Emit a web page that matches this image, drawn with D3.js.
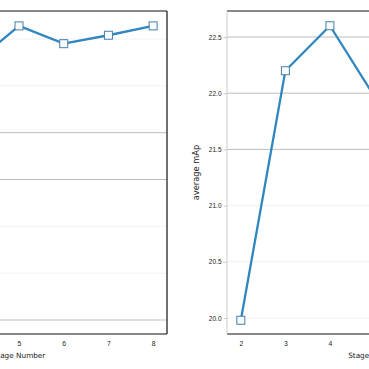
<!DOCTYPE html>
<html><head><meta charset="utf-8">
<script src="https://cdn.jsdelivr.net/npm/d3@7"></script>
<style>body{margin:0;background:#fff;}svg{display:block;font-family:"DejaVu Sans",sans-serif;}</style>
</head><body>
<script>
const stages = [2, 3, 4, 5, 6, 7, 8];
const leftValues = [19.9, 22.2, 22.74, 23.14, 22.95, 23.04, 23.14];
const rightValues = [19.98, 22.2, 22.6, 21.97, 22.3, 22.4, 22.5];
const leftTicks = [20.0, 20.5, 21.0, 21.5, 22.0, 22.5, 23.0];
const rightTicks = [20.0, 20.5, 21.0, 21.5, 22.0, 22.5];
const leftStrongTicks = [20.0, 21.5, 22.0];
const rightStrongTicks = [21.5, 22.0, 22.5];
const xLabel = "Stage Number";
const yLabel = "average mAp";

const W = 369, H = 369;
const svg = d3.select("body").append("svg").attr("width", W).attr("height", H);
const lineColor = "#2f86c0", markerStroke = "#4a7fa6";

function panel(cfg) {
  const g = svg.append("g");
  const x = d3.scaleLinear().domain([1.69, 8.31]).range([cfg.x0, cfg.x1]);
  const y = d3.scaleLinear().domain(cfg.yDomain).range(cfg.yRange);
  g.selectAll("line.grid").data(cfg.ticks).enter().append("line")
    .attr("x1", cfg.x0).attr("x2", cfg.x1)
    .attr("y1", d => y(d)).attr("y2", d => y(d))
    .attr("stroke", d => cfg.strong.includes(d) ? "#bdbdbd" : "#f2f2f2")
    .attr("stroke-width", 1);
  const ya = g.append("g").attr("transform", `translate(${cfg.x0},0)`)
    .call(d3.axisLeft(y).tickValues(cfg.ticks).tickFormat(d3.format(".1f")).tickSize(3.5).tickPadding(2));
  ya.select(".domain").remove();
  ya.selectAll(".tick line").attr("stroke", "#c8c8c8");
  ya.selectAll("text").attr("font-size", 6.5).attr("fill", "#222");
  const xa = g.append("g").attr("transform", `translate(0,${cfg.yBottom})`)
    .call(d3.axisBottom(x).tickValues(stages).tickFormat(d3.format("d")).tickSize(0).tickPadding(7));
  xa.select(".domain").remove();
  xa.selectAll("text").attr("font-size", 6.8).attr("fill", "#222");
  g.append("line").attr("x1", cfg.x0).attr("x2", cfg.x1).attr("y1", cfg.yTop).attr("y2", cfg.yTop).attr("stroke", "#111").attr("stroke-width", 1.2);
  g.append("line").attr("x1", cfg.x0).attr("x2", cfg.x1).attr("y1", cfg.yBottom).attr("y2", cfg.yBottom).attr("stroke", "#111").attr("stroke-width", 1.2);
  g.append("line").attr("x1", cfg.x0).attr("x2", cfg.x0).attr("y1", cfg.yTop).attr("y2", cfg.yBottom).attr("stroke", "#cccccc").attr("stroke-width", 1);
  g.append("line").attr("x1", cfg.x1).attr("x2", cfg.x1).attr("y1", cfg.yTop).attr("y2", cfg.yBottom).attr("stroke", "#111").attr("stroke-width", 1.2);
  g.append("text").attr("x", (cfg.x0 + cfg.x1) / 2).attr("y", cfg.yBottom + 24)
    .attr("text-anchor", "middle").attr("font-size", 7.3).attr("fill", "#222").text(xLabel);
  g.append("text").attr("transform", `translate(${cfg.x0 - 28},${(cfg.yTop + cfg.yBottom) / 2}) rotate(-90)`)
    .attr("text-anchor", "middle").attr("font-size", 8.3).attr("fill", "#222").text(yLabel);
  const data = stages.map((s, i) => [s, cfg.values[i]]);
  g.append("path").datum(data)
    .attr("d", d3.line().x(d => x(d[0])).y(d => y(d[1])))
    .attr("fill", "none").attr("stroke", lineColor).attr("stroke-width", 2.3);
  g.selectAll("rect.m").data(data).enter().append("rect")
    .attr("x", d => x(d[0]) - 4).attr("y", d => y(d[1]) - 4)
    .attr("width", 8).attr("height", 8)
    .attr("fill", "#f5fbff").attr("stroke", markerStroke).attr("stroke-width", 1);
}

panel({x0: -129, x1: 167, yTop: 11, yBottom: 334, yDomain: [20.0, 23.0], yRange: [320, 39],
  ticks: leftTicks, strong: leftStrongTicks, values: leftValues});
panel({x0: 227, x1: 522, yTop: 11, yBottom: 334, yDomain: [20.0, 22.5], yRange: [318, 37],
  ticks: rightTicks, strong: rightStrongTicks, values: rightValues});
</script>
</body></html>
